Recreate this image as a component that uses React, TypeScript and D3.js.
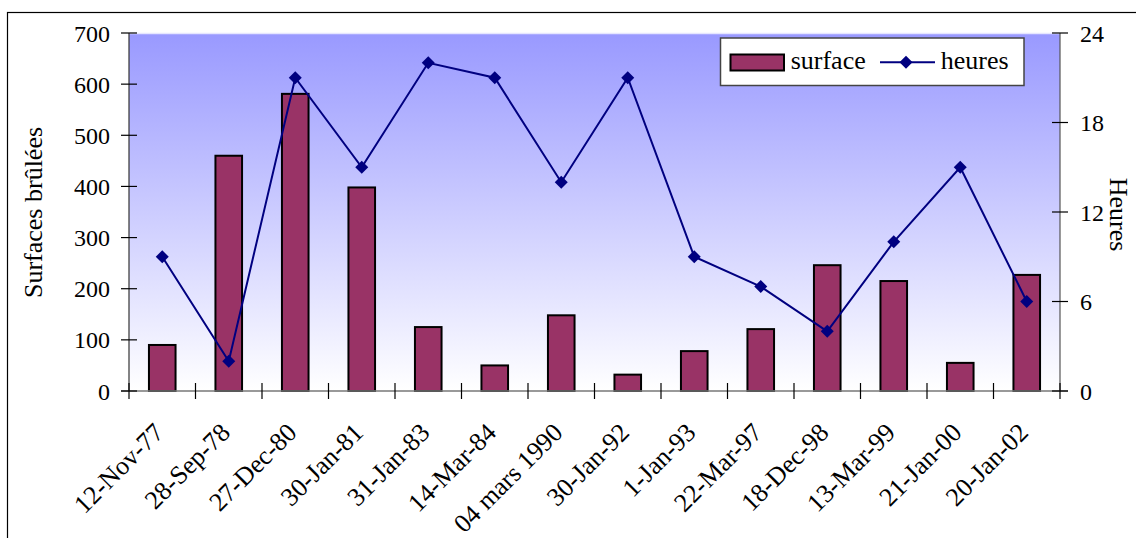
import React from "react";
import * as d3 from "d3";

const categories = [
  "12-Nov-77", "28-Sep-78", "27-Dec-80", "30-Jan-81", "31-Jan-83", "14-Mar-84",
  "04 mars 1990", "30-Jan-92", "1-Jan-93", "22-Mar-97", "18-Dec-98", "13-Mar-99",
  "21-Jan-00", "20-Jan-02",
];
const surface = [90, 460, 581, 398, 125, 50, 148, 32, 78, 121, 246, 215, 55, 227];
const heures = [9, 2, 21, 15, 22, 21, 14, 21, 9, 7, 4, 10, 15, 6];
const leftTicks = [0, 100, 200, 300, 400, 500, 600, 700];
const rightTicks = [0, 6, 12, 18, 24];

const W = 1136;
const H = 538;
const L = 129;
const R = 1060;
const T = 33;
const B = 391;
const FONT = "'Liberation Serif', 'Times New Roman', serif";

export default function App() {
  const x = d3.scaleBand<string>().domain(categories).range([L, R]).paddingInner(0).paddingOuter(0);
  const yL = d3.scaleLinear().domain([0, 700]).range([B, T]);
  const yR = d3.scaleLinear().domain([0, 24]).range([B, T]);
  const bw = x.bandwidth() / 2.5;
  const line = d3
    .line<number>()
    .x((_, i) => (x(categories[i]) as number) + x.bandwidth() / 2)
    .y((d) => yR(d));
  const diamond = (cx: number, cy: number, r: number) =>
    `M${cx},${cy - r}L${cx + r},${cy}L${cx},${cy + r}L${cx - r},${cy}Z`;
  const bounds = categories.map((c) => x(c) as number).concat([R]);

  return (
    <svg width={W} height={H} style={{ position: "absolute", left: 0, top: 0 }} fontFamily={FONT}>
      <defs>
        <linearGradient id="bg" x1="0" y1="0" x2="0" y2="1">
          <stop offset="0" stopColor="#9999ff" />
          <stop offset="1" stopColor="#ffffff" />
        </linearGradient>
      </defs>
      <rect x={0} y={0} width={W} height={H} fill="#fff" />
      <rect x={7.5} y={12.5} width={W + 20} height={H + 20} fill="none" stroke="#000" strokeWidth={1.2} />
      <rect x={L} y={T} width={R - L} height={B - T} fill="url(#bg)" />
      <line x1={L} x2={R} y1={T + 0.5} y2={T + 0.5} stroke="#e6e6ff" strokeWidth={1.5} />

      {/* bars */}
      {surface.map((v, i) => {
        const cx = (x(categories[i]) as number) + x.bandwidth() / 2;
        return (
          <rect key={i} x={cx - bw / 2} y={yL(v)} width={bw} height={B - yL(v)} fill="#993366" stroke="#000" strokeWidth={2} />
        );
      })}

      {/* axes */}
      <line x1={L} x2={L} y1={T} y2={B} stroke="#333" strokeWidth={1.2} />
      <line x1={R} x2={R} y1={T} y2={B} stroke="#555" strokeWidth={1.2} />
      <line x1={L - 8} x2={R + 8} y1={B} y2={B} stroke="#777" strokeWidth={1.5} />
      {leftTicks.map((t) => (
        <g key={"l" + t}>
          <line x1={L - 8} x2={L + 8} y1={yL(t)} y2={yL(t)} stroke="#000" strokeWidth={1.2} />
          <text x={110} y={yL(t) + 8.5} textAnchor="end" fontSize={24} fill="#000">{t}</text>
        </g>
      ))}
      {rightTicks.map((t) => (
        <g key={"r" + t}>
          <line x1={R - 8} x2={R + 8} y1={yR(t)} y2={yR(t)} stroke="#000" strokeWidth={1.2} />
          <text x={1080} y={yR(t) + 8.5} textAnchor="start" fontSize={24} fill="#000">{t}</text>
        </g>
      ))}
      {bounds.map((bx, i) => (
        <line key={"x" + i} x1={bx} x2={bx} y1={B - 8} y2={B + 8} stroke="#000" strokeWidth={1.2} />
      ))}
      {categories.map((c) => {
        const cx = (x(c) as number) + x.bandwidth() / 2;
        return (
          <text key={c} transform={`translate(${cx + 3},${434}) rotate(-45)`} textAnchor="end" fontSize={26} fill="#000">
            {c}
          </text>
        );
      })}

      {/* line series */}
      <path d={line(heures) || ""} fill="none" stroke="#000080" strokeWidth={2} />
      {heures.map((v, i) => {
        const cx = (x(categories[i]) as number) + x.bandwidth() / 2;
        return <path key={"d" + i} d={diamond(cx, yR(v), 6.5)} fill="#000080" />;
      })}

      {/* titles */}
      <text transform="translate(41.5,212.5) rotate(-90)" textAnchor="middle" fontSize={26} fill="#000">
        Surfaces brûlées
      </text>
      <text transform="translate(1110,214.5) rotate(90)" textAnchor="middle" fontSize={26} fill="#000">
        Heures
      </text>

      {/* legend */}
      <rect x={720.5} y={38} width={303.5} height={47.5} fill="#fff" stroke="#444" strokeWidth={1.5} />
      <rect x={730.5} y={54.5} width={53.5} height={16} fill="#993366" stroke="#000" strokeWidth={2} />
      <text x={790.7} y={69} fontSize={26} fill="#000">surface</text>
      <line x1={880} x2={935} y1={62.3} y2={62.3} stroke="#000080" strokeWidth={2} />
      <path d={diamond(906, 62.3, 6.5)} fill="#000080" />
      <text x={940.7} y={69} fontSize={26} fill="#000">heures</text>
    </svg>
  );
}
